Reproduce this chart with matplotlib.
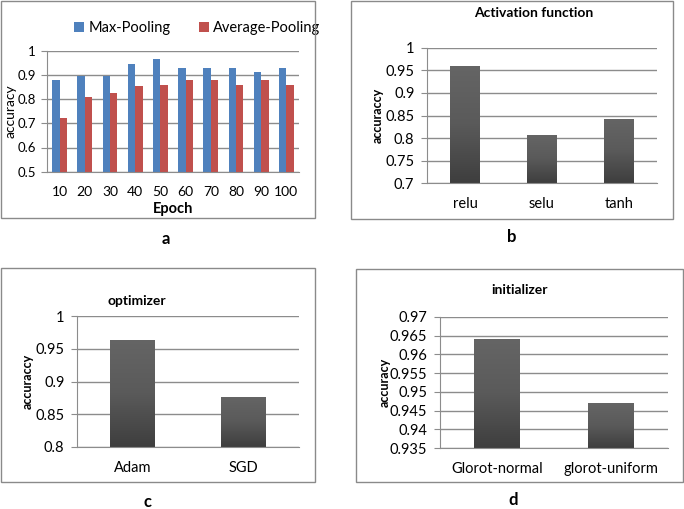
import matplotlib
matplotlib.use("Agg")
import matplotlib.pyplot as plt
import numpy as np
from matplotlib.patches import Rectangle

plt.rcParams['font.family'] = ['Lato', 'DejaVu Sans']

# ---------------- data ----------------
epochs = ["10", "20", "30", "40", "50", "60", "70", "80", "90", "100"]
max_pool = [0.877, 0.895, 0.895, 0.947, 0.965, 0.930, 0.930, 0.930, 0.912, 0.930]
avg_pool = [0.720, 0.807, 0.825, 0.855, 0.860, 0.877, 0.877, 0.860, 0.877, 0.860]

activations = ["relu", "selu", "tanh"]
act_acc = [0.960, 0.807, 0.842]

optimizers = ["Adam", "SGD"]
opt_acc = [0.964, 0.877]

initializers = ["Glorot-normal", "glorot-uniform"]
init_acc = [0.964, 0.947]

W, H = 684, 509
fig = plt.figure(figsize=(W / 100, H / 100), dpi=100)

def box(l, t, r, b):
    return [l / W, 1 - b / H, (r - l) / W, (b - t) / H]

def frame(l, t, r, b):
    fig.patches.append(Rectangle((l / W, 1 - b / H), (r - l) / W, (b - t) / H,
                                 transform=fig.transFigure, fill=False,
                                 edgecolor="#8a8a8a", linewidth=1.0))

GRID = "#8c8c8c"

def style(ax, ylo, yhi, step, fs, ypad=5):
    ax.set_ylim(ylo, yhi)
    ticks = np.round(np.arange(ylo, yhi + step / 2, step), 4)
    ax.set_yticks(ticks)
    ax.set_yticklabels([("%g" % t) for t in ticks], fontsize=fs)
    ax.yaxis.grid(True, color=GRID, linewidth=1.0)
    ax.set_axisbelow(True)
    for s in ["top", "right"]:
        ax.spines[s].set_visible(False)
    ax.spines["left"].set_color(GRID)
    ax.spines["bottom"].set_color(GRID)
    ax.tick_params(axis="y", length=4, color=GRID, pad=ypad)
    ax.tick_params(axis="x", length=0, pad=10, labelsize=fs)

def ylabel_at(ax, text, xfrac, **kw):
    ax.set_ylabel(text, **kw)
    ax.yaxis.set_label_coords(xfrac, 0.5)
    ax.yaxis.label.set_va("center")
    ax.yaxis.label.set_ha("center")

def grad_bars(ax, xs, vals, width, ylo):
    cmap = matplotlib.colors.LinearSegmentedColormap.from_list(
        "g", ["#3e3e3e", "#5a5a5a", "#656565"])
    grad = np.linspace(0, 1, 256).reshape(-1, 1)
    for x, v in zip(xs, vals):
        bar = ax.bar(x, v - ylo, width, bottom=ylo, color="#555555", edgecolor="none")[0]
        im = ax.imshow(grad, cmap=cmap, aspect="auto", origin="lower",
                       extent=[x - width / 2, x + width / 2, ylo, v], zorder=2)
        im.set_clip_path(bar)
        bar.set_alpha(0)

# ---------------- panel a ----------------
frame(1, 1, 315, 218)
ax = fig.add_axes(box(47, 50.7, 299, 171.7))
x = np.arange(len(epochs))
bw = 0.29
ax.bar(x - bw / 2, max_pool, bw, color="#4F81BD", label="Max-Pooling", zorder=2)
ax.bar(x + bw / 2, avg_pool, bw, color="#C0504D", label="Average-Pooling", zorder=2)
ax.set_xlim(-0.5, len(epochs) - 0.5)
style(ax, 0.5, 1.0, 0.1, 9.5, ypad=4)
ax.tick_params(axis="x", labelsize=10)
ax.set_xticks(x)
ax.set_xticklabels(epochs)
ylabel_at(ax, "accuracy", (11 - 47) / 252, fontsize=10)
ax.set_xlabel("Epoch", fontsize=10.5, fontweight="bold", labelpad=3)
ax.legend(loc="lower left", bbox_to_anchor=(0.085, 1.08), ncol=2, frameon=False,
          fontsize=10.5, handlelength=0.7, handleheight=0.7, handletextpad=0.3,
          columnspacing=1.9, borderaxespad=0)
fig.text(166 / W, 1 - 239 / H, "a", fontsize=12, fontweight="bold", ha="center", va="center")

# ---------------- panel b ----------------
frame(351, 1, 673, 219)
ax = fig.add_axes(box(427, 47.7, 657, 183.3))
xb = np.arange(len(activations))
ax.set_xlim(-0.5, len(activations) - 0.5)
style(ax, 0.7, 1.0, 0.05, 10.5)
grad_bars(ax, xb, act_acc, 0.39, 0.7)
ax.set_xticks(xb)
ax.set_xticklabels(activations)
ylabel_at(ax, "accuraccy", (378 - 427) / 230, fontsize=9, fontweight="bold")
fig.text(534 / W, 1 - 13 / H, "Activation function", fontsize=10, fontweight="bold",
         ha="center", va="center")
fig.text(512 / W, 1 - 237 / H, "b", fontsize=12, fontweight="bold", ha="center", va="center")

# ---------------- panel c ----------------
frame(1, 268, 315, 482)
ax = fig.add_axes(box(77, 316, 299, 447))
xc = np.arange(len(optimizers))
ax.set_xlim(-0.5, len(optimizers) - 0.5)
style(ax, 0.8, 1.0, 0.05, 10.5)
grad_bars(ax, xc, opt_acc, 0.40, 0.8)
ax.set_xticks(xc)
ax.set_xticklabels(optimizers)
ylabel_at(ax, "accuraccy", (28 - 77) / 222, fontsize=9, fontweight="bold")
fig.text(137 / W, 1 - 301 / H, "optimizer", fontsize=10, fontweight="bold",
         ha="center", va="center")
fig.text(147 / W, 1 - 502 / H, "c", fontsize=12, fontweight="bold", ha="center", va="center")

# ---------------- panel d ----------------
frame(356, 269, 683, 482)
ax = fig.add_axes(box(440, 317, 668, 448))
xd = np.arange(len(initializers))
ax.set_xlim(-0.5, len(initializers) - 0.5)
style(ax, 0.935, 0.97, 0.005, 10.5)
grad_bars(ax, xd, init_acc, 0.40, 0.935)
ax.set_xticks(xd)
ax.set_xticklabels(initializers)
ylabel_at(ax, "accuracy", (385 - 440) / 228, fontsize=9, fontweight="bold")
fig.text(520 / W, 1 - 290 / H, "initializer", fontsize=10, fontweight="bold",
         ha="center", va="center")
fig.text(513 / W, 1 - 500 / H, "d", fontsize=12, fontweight="bold", ha="center", va="center")

fig.savefig("out.png", dpi=100)
